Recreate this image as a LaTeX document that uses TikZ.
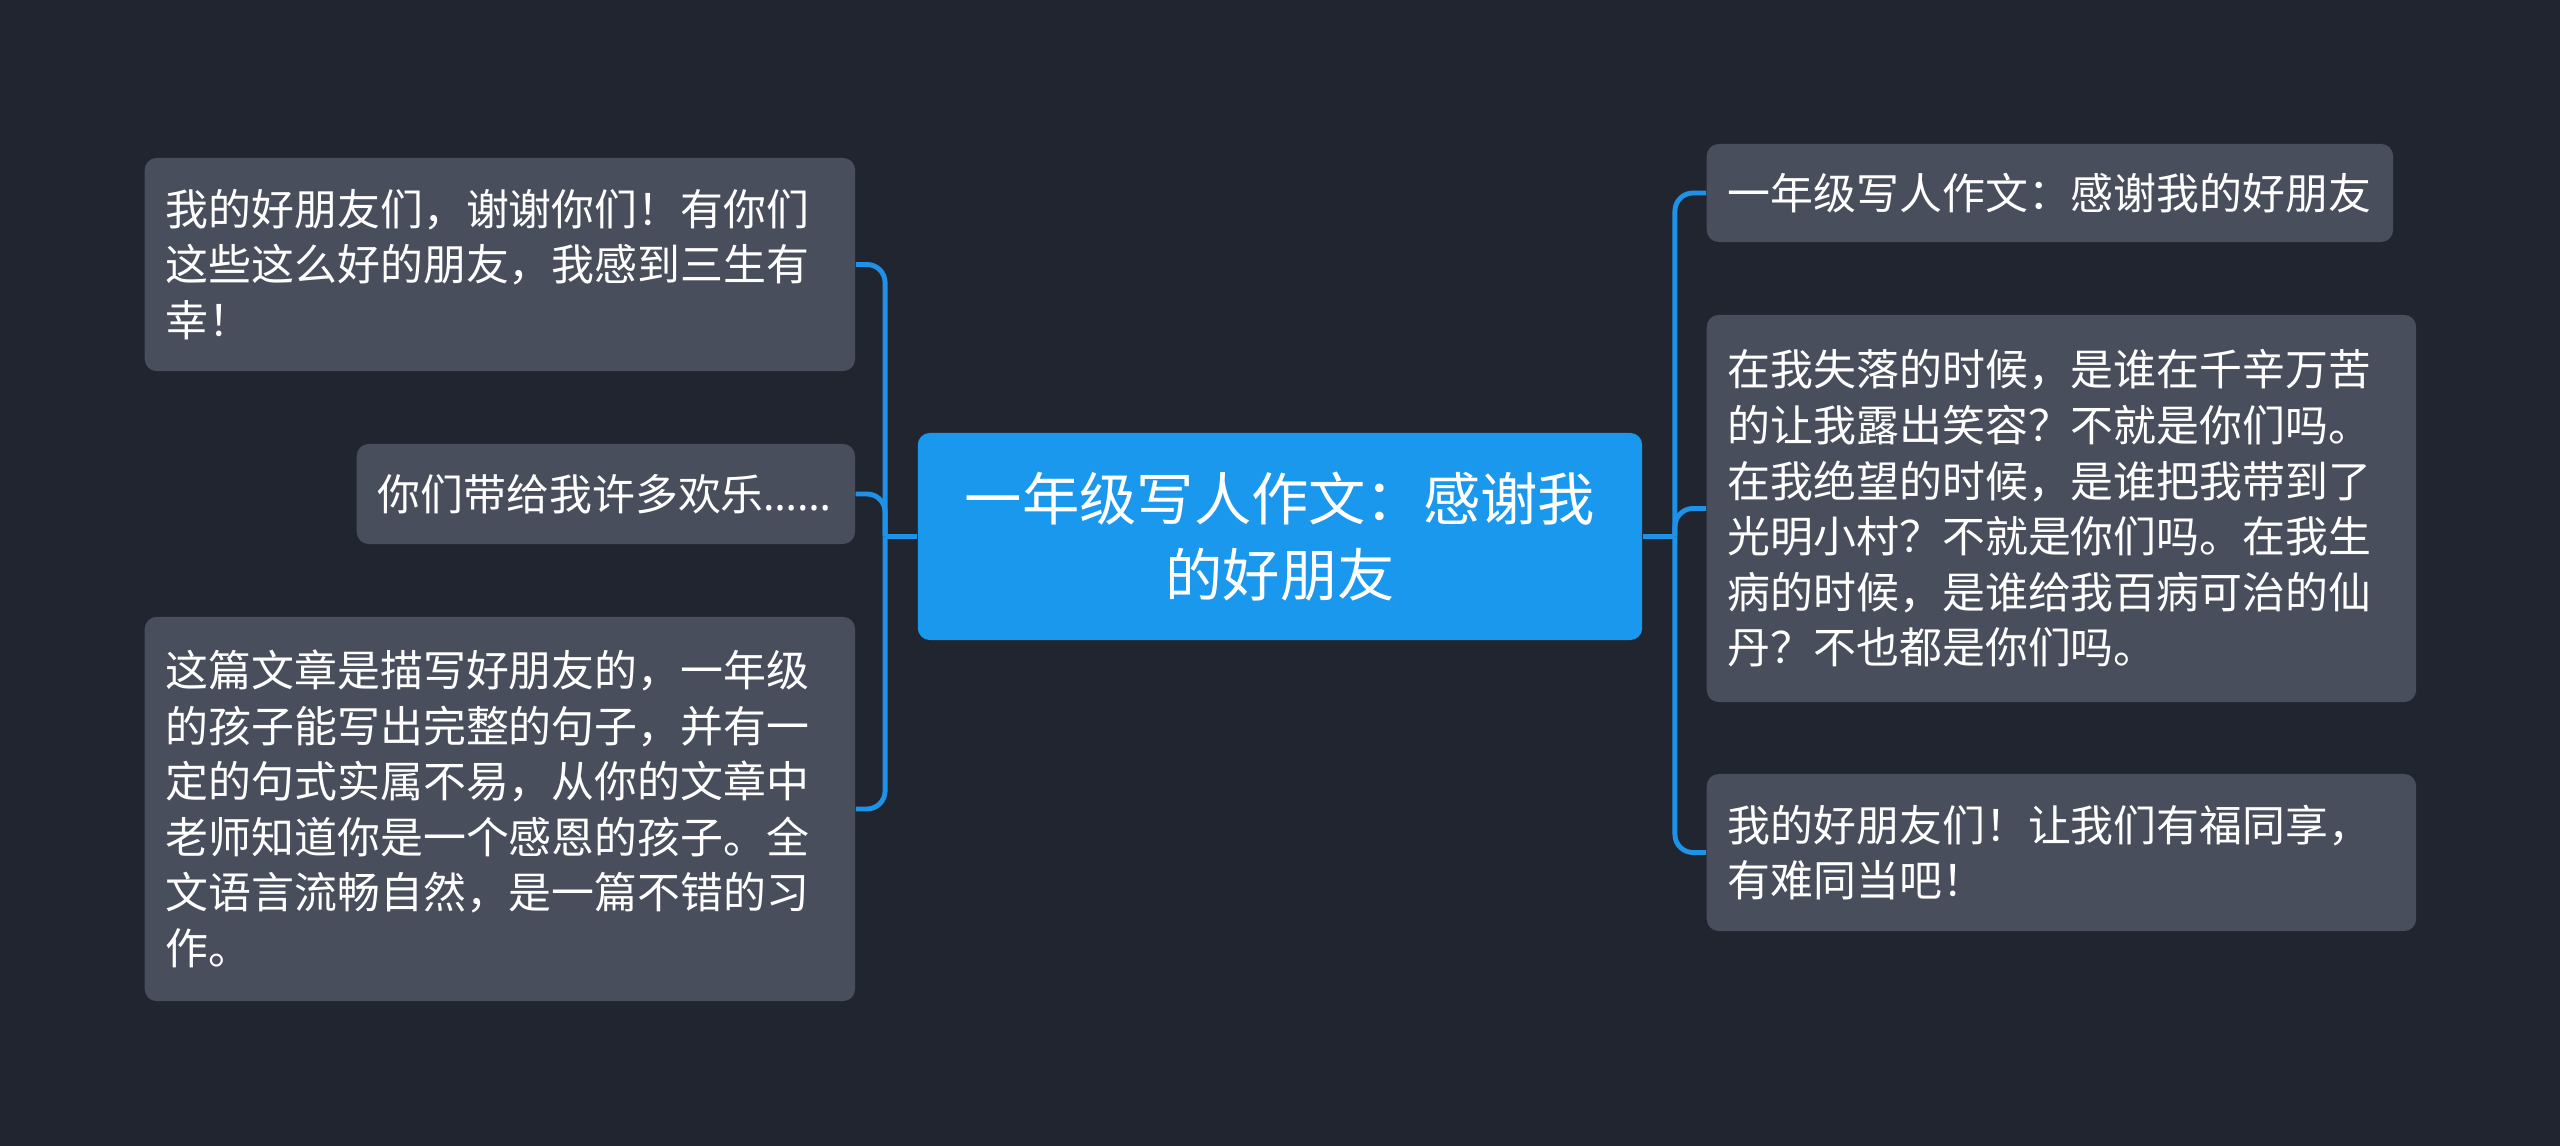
\documentclass[tikz,border=0pt]{standalone}
\usepackage{fontspec}
\usepackage{tikz}
\usetikzlibrary{positioning}
\newfontfamily\cjk{Noto Sans CJK SC}
\newfontfamily\latinfont{Noto Sans}
\definecolor{canvasbg}{RGB}{33,37,48}
\definecolor{leafbg}{RGB}{72,78,92}
\definecolor{rootbg}{RGB}{26,152,238}
\definecolor{linkblue}{RGB}{30,146,230}

\tikzset{
  rootbox/.style={rectangle,rounded corners=0.12cm,fill=rootbg,text=white,
    font=\cjk\fontsize{16.3pt}{21.8pt}\selectfont,align=center,
    minimum width=7.24cm,minimum height=2.07cm,inner sep=0pt},
  leafbox/.style={rectangle,rounded corners=0.12cm,fill=leafbg,text=white,
    font=\cjk\fontsize{12.2pt}{15.8pt}\selectfont,align=left,
    inner xsep=0.21cm,inner ysep=0pt,anchor=west},
  branchline/.style={draw=linkblue,line width=1.4pt,rounded corners=0.18cm}
}

\begin{document}
\begin{tikzpicture}[x=0.01cm,y=-0.01cm]
\fill[canvasbg] (0,0) rectangle (2560,1146);
\useasboundingbox (0,0) rectangle (2560,1146);

% centre topic
\node[rootbox] (topic) at (1280,536.5) {一年级写人作文：感谢我\\的好朋友};
\coordinate[left=0.32cm of topic.west] (lhub);
\coordinate[right=0.32cm of topic.east] (rhub);

% left side
\node[leafbox,text width=6.68cm,minimum height=2.13cm] (lfriends) at (144,264.5)
  {我的好朋友们，谢谢你们！有你们\\这些这么好的朋友，我感到三生有\\幸！};
\node[leafbox,text width=4.56cm,minimum height=1.00cm] (ljoy) at (356,494)
  {你们带给我许多欢乐{\latinfont ……}};
\node[leafbox,text width=6.68cm,minimum height=3.84cm] (lcomment) at (144,809)
  {这篇文章是描写好朋友的，一年级\\的孩子能写出完整的句子，并有一\\定的句式实属不易，从你的文章中\\老师知道你是一个感恩的孩子。全\\文语言流畅自然，是一篇不错的习\\作。};

% right side
\node[leafbox,text width=6.44cm,minimum height=0.98cm] (rtitle) at (1706,193)
  {一年级写人作文：感谢我的好朋友};
\node[leafbox,text width=6.67cm,minimum height=3.87cm] (rstory) at (1706,508.5)
  {在我失落的时候，是谁在千辛万苦\\的让我露出笑容？不就是你们吗。\\在我绝望的时候，是谁把我带到了\\光明小村？不就是你们吗。在我生\\病的时候，是谁给我百病可治的仙\\丹？不也都是你们吗。};
\node[leafbox,text width=6.67cm,minimum height=1.57cm] (rshare) at (1706,852.5)
  {我的好朋友们！让我们有福同享，\\有难同当吧！};

% connectors
\draw[branchline] (topic.west) -- (lhub);
\draw[branchline] (topic.east) -- (rhub);
\foreach \leaf in {lfriends,ljoy,lcomment}
  \draw[branchline] (lhub) |- (\leaf.east);
\foreach \leaf in {rtitle,rstory,rshare}
  \draw[branchline] (rhub) |- (\leaf.west);
\end{tikzpicture}
\end{document}
